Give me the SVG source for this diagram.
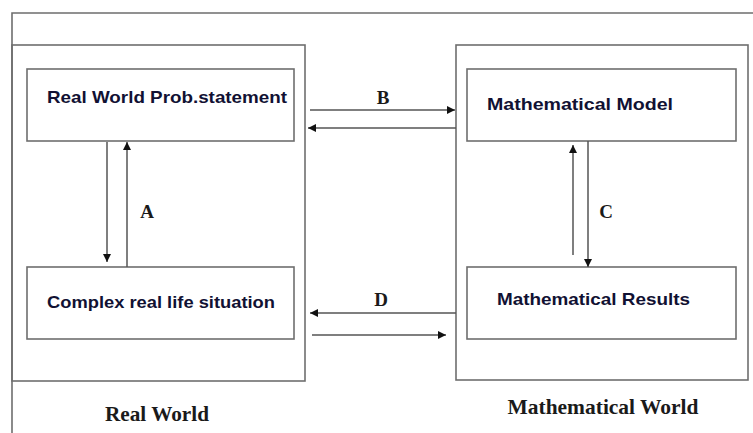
<svg xmlns="http://www.w3.org/2000/svg" width="753" height="433" viewBox="0 0 753 433">
<style>
.frame{fill:none;stroke:#6e6e6e;stroke-width:1.6}
.box{fill:#fff;stroke:#6e6e6e;stroke-width:1.6}
.conn{stroke:#555;stroke-width:1.5;fill:none}
.t{font-family:"Liberation Sans",Arial,sans-serif;font-weight:bold;font-size:17px;fill:#111133}
.lbl{font-family:"Liberation Serif","Times New Roman",serif;font-weight:bold;font-size:19px;fill:#1a1a1a}
.wl{font-family:"Liberation Serif","Times New Roman",serif;font-weight:bold;font-size:21px;fill:#1a1a1a}
</style>
<defs>
<marker id="ah" viewBox="0 0 10 10" refX="10" refY="5" markerWidth="9" markerHeight="8" markerUnits="userSpaceOnUse" orient="auto">
<path d="M0,0 L10,5 L0,10 Z" fill="#111"/>
</marker>
</defs>
<rect width="753" height="433" fill="#fff"/>
<g id="outer-frame">
<path class="frame" d="M12,433 V13 H753"/>
</g>
<g id="real-world-panel">
<rect class="frame" x="12" y="45" width="293" height="336"/>
<text class="wl" x="157" y="421" text-anchor="middle" textLength="104" lengthAdjust="spacingAndGlyphs">Real World</text>
</g>
<g id="math-world-panel">
<rect class="frame" x="456" y="45" width="292" height="335"/>
<text class="wl" x="603" y="414" text-anchor="middle" textLength="191" lengthAdjust="spacingAndGlyphs">Mathematical World</text>
</g>
<g id="node-real-problem">
<rect class="box" x="27" y="69" width="267" height="72"/>
<text class="t" x="47" y="103" textLength="240" lengthAdjust="spacingAndGlyphs">Real World  Prob.statement</text>
</g>
<g id="node-complex-situation">
<rect class="box" x="27" y="267" width="267" height="72"/>
<text class="t" x="47" y="308" textLength="228" lengthAdjust="spacingAndGlyphs">Complex real life situation</text>
</g>
<g id="node-math-model">
<rect class="box" x="467" y="69" width="269" height="72"/>
<text class="t" x="487" y="110" textLength="186" lengthAdjust="spacingAndGlyphs">Mathematical  Model</text>
</g>
<g id="node-math-results">
<rect class="box" x="467" y="267" width="269" height="72"/>
<text class="t" x="497" y="305" textLength="193" lengthAdjust="spacingAndGlyphs">Mathematical  Results</text>
</g>
<g id="connectors">
<line class="conn" x1="310" y1="110" x2="455" y2="110" marker-end="url(#ah)"/>
<line class="conn" x1="456" y1="128" x2="308" y2="128" marker-end="url(#ah)"/>
<line class="conn" x1="456" y1="313" x2="310" y2="313" marker-end="url(#ah)"/>
<line class="conn" x1="312" y1="335" x2="446" y2="335" marker-end="url(#ah)"/>
<line class="conn" x1="107" y1="142" x2="107" y2="262" marker-end="url(#ah)"/>
<line class="conn" x1="127" y1="267" x2="127" y2="142" marker-end="url(#ah)"/>
<line class="conn" x1="573" y1="255" x2="573" y2="145" marker-end="url(#ah)"/>
<line class="conn" x1="588" y1="141" x2="588" y2="267" marker-end="url(#ah)"/>
<text class="lbl" x="383" y="104" text-anchor="middle">B</text>
<text class="lbl" x="147" y="218" text-anchor="middle">A</text>
<text class="lbl" x="606" y="218" text-anchor="middle">C</text>
<text class="lbl" x="381" y="306" text-anchor="middle">D</text>
</g>
</svg>
